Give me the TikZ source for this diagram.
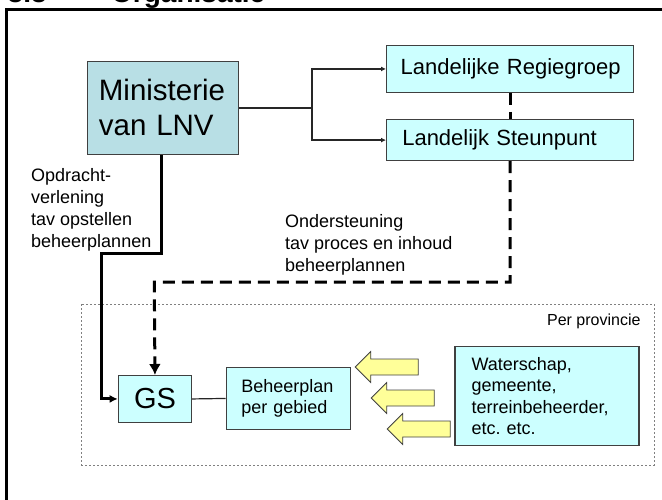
\documentclass[tikz,border=0pt]{standalone}
\usepackage{fontspec}
\setmainfont{Liberation Sans}
\usetikzlibrary{arrows.meta}
\definecolor{lnvblue}{RGB}{184,223,229}
\definecolor{boxcyan}{RGB}{204,255,255}
\definecolor{pijlgeel}{RGB}{255,255,153}
\frenchspacing
\begin{document}
\begin{tikzpicture}[x=1pt,y=-1pt,
    orgbox/.style={draw=black!75,line width=1.2pt,fill=boxcyan,anchor=north west,align=left,inner ysep=0pt},
    dunlijn/.style={line width=1.2pt,black!85},
    diklijn/.style={line width=3pt,black},
    stippel/.style={line width=3pt,black,dash pattern=on 12pt off 7pt},
    tekst/.style={anchor=north west,align=left,inner sep=0pt,font=\fontsize{18}{22}\selectfont}]
                \clip (0,0) rectangle (662,500);
                %% titel en kader
                \node[anchor=base west,inner sep=0pt,font=\fontsize{28}{30}\selectfont\bfseries] (nr) at (7.5,3) {3.3};
                \node[anchor=base west,inner sep=0pt,font=\fontsize{28}{30}\selectfont\bfseries] (titel) at (111,3) {Organisatie};
                \draw[line width=3pt] (6,10) rectangle (680,520);
                %% landelijk niveau
                \node[orgbox,fill=lnvblue,text width=127.8pt,inner xsep=11.6pt,minimum height=93.3pt,
                      font=\fontsize{29.5}{35}\selectfont] (lnv) at (86.7,60.7) {Ministerie\\van LNV};
                \node[orgbox,text width=219pt,inner xsep=14pt,minimum height=46.7pt,
                      font=\fontsize{22}{24}\selectfont] (regie) at (386,45) {Landelijke~Regiegroep};
                \node[orgbox,text width=215.6pt,inner xsep=15.7pt,minimum height=41pt,
                      font=\fontsize{22}{24}\selectfont] (steun) at (386,119) {Landelijk Steunpunt};
                \coordinate (splits) at (312,106.7);
                \draw[dunlijn] (lnv.east) -- (lnv.east -| splits);
                \draw[dunlijn,-{Latex[length=5pt,width=5pt]}] (lnv.east -| splits) |- (regie.west);
                \draw[dunlijn,-{Latex[length=5pt,width=5pt]}] (lnv.east -| splits) |- (steun.west);
                \draw[stippel] (regie.south) -- (steun.north);
                %% teksten bij de lijnen
                \node[tekst] (opdracht) at (31,168) {Opdracht-\\verlening\\tav opstellen\\beheerplannen};
                \node[tekst] (ondst) at (285,214) {Ondersteuning\\tav proces en inhoud\\beheerplannen};
                %% per provincie
                \draw[gray,line width=0.8pt,dash pattern=on 2pt off 2pt] (81.7,304.3) rectangle (654,465);
                \node[anchor=base east,inner sep=0pt,font=\fontsize{16}{18}\selectfont] (prov) at (640.7,325) {Per provincie};
                \node[orgbox,text width=73.3pt,inner xsep=0pt,minimum height=46.7pt,align=center,
                      font=\fontsize{29}{30}\selectfont] (gs) at (117.7,375) {GS};
                \node[orgbox,text width=94.3pt,inner xsep=15pt,minimum height=62.3pt,
                      font=\fontsize{18}{21.5}\selectfont] (plan) at (225.7,366.7) {Beheerplan\\per gebied};
                \node[orgbox,text width=150.6pt,inner xsep=16.7pt,minimum height=99.3pt,
                      font=\fontsize{18}{21.5}\selectfont] (partners) at (454.3,345.7) {Waterschap,\\gemeente,\\terreinbeheerder,\\etc. etc.};
                \draw[dunlijn] (gs.east) -- (plan.west);
                %% opdracht en ondersteuning
                \coordinate (knik1) at (161.7,253);
                \coordinate (knik2) at (101.7,253);
                \draw[diklijn,-{Latex[length=8pt,width=8pt]}] (lnv.south -| knik1) -- (knik1) -- (knik2) |- (gs.west);
                \coordinate (ondhoek) at (154.3,282);
                \draw[stippel,-{Latex[length=11pt,width=12pt]}] (steun.south) |- (ondhoek) -- (gs.north);
                %% gele pijlen
                \foreach \i in {0,1,2}
                    \draw[fill=pijlgeel,draw=black!75,line width=0.8pt,line join=miter]
                        (355.3+16*\i,367+31*\i) -- ++(15.5,-15.5) -- ++(0,7.5) -- ++(47.5,0)
                        -- ++(0,16) -- ++(-47.5,0) -- ++(0,7.5) -- cycle;
            \end{tikzpicture}
\end{document}
